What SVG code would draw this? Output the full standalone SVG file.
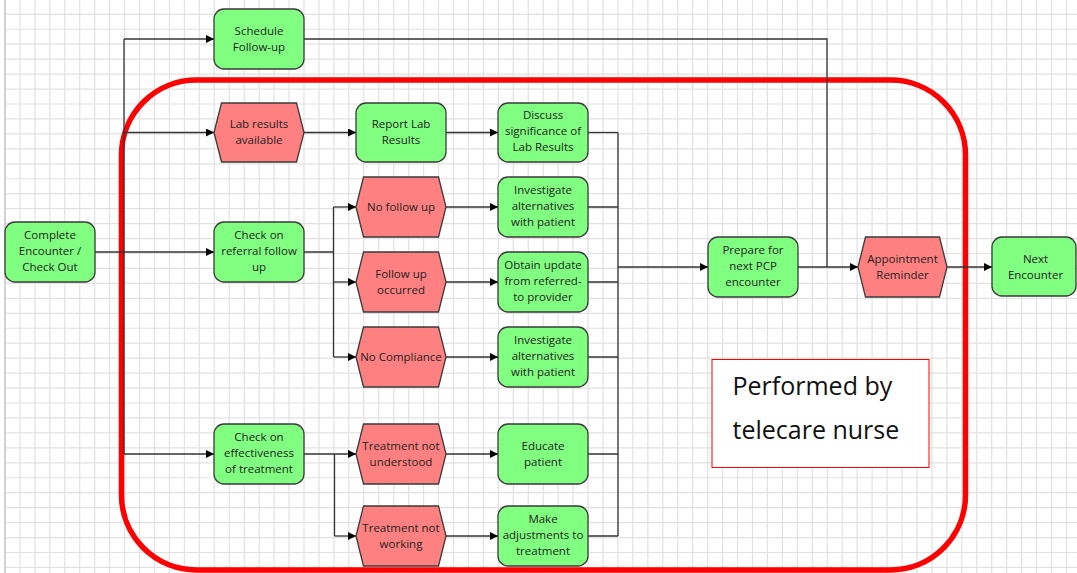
<svg xmlns="http://www.w3.org/2000/svg" width="1077" height="573" viewBox="0 0 1077 573">
<defs>
<style>
.grid{stroke:#e1e1e1;stroke-width:1.2;fill:none}
.g{fill:#80ff80;stroke:#3a3a3a;stroke-width:1.3}
.r{fill:#ff8080;stroke:#3a3a3a;stroke-width:1.3}
.t{font-family:"Open Sans","Noto Sans","Liberation Sans",sans-serif;font-size:11.5px;fill:#222;text-anchor:middle}
.c{fill:none;stroke:#333;stroke-width:1.3}
.ca{fill:none;stroke:#333;stroke-width:1.3;marker-end:url(#ah)}
.note{font-family:"Open Sans","Noto Sans","Liberation Sans",sans-serif;font-size:25px;fill:#111}
</style>
<marker id="ah" viewBox="0 0 10 10" refX="10" refY="5" markerUnits="userSpaceOnUse" markerWidth="9" markerHeight="8" orient="auto">
<path d="M0,0 L10,5 L0,10 z" fill="#000"/>
</marker>
</defs>
<rect x="0" y="0" width="1077" height="573" fill="#fff"/>
<path class="grid" d="M20,0V573M34.9,0V573M49.85,0V573M64.8,0V573M79.75,0V573M94.7,0V573M109.65,0V573M124.6,0V573M139.55,0V573M154.5,0V573M169.45,0V573M184.4,0V573M199.35,0V573M214.3,0V573M229.25,0V573M244.2,0V573M259.15,0V573M274.1,0V573M289.05,0V573M304,0V573M318.95,0V573M333.9,0V573M348.85,0V573M363.8,0V573M378.75,0V573M393.7,0V573M408.65,0V573M423.6,0V573M438.55,0V573M453.5,0V573M468.45,0V573M483.4,0V573M498.35,0V573M513.3,0V573M528.25,0V573M543.2,0V573M558.15,0V573M573.1,0V573M588.05,0V573M603,0V573M617.95,0V573M632.9,0V573M647.85,0V573M662.8,0V573M677.75,0V573M692.7,0V573M707.65,0V573M722.6,0V573M737.55,0V573M752.5,0V573M767.45,0V573M782.4,0V573M797.35,0V573M812.3,0V573M827.25,0V573M842.2,0V573M857.15,0V573M872.1,0V573M887.05,0V573M902,0V573M916.95,0V573M931.9,0V573M946.85,0V573M961.8,0V573M976.75,0V573M991.7,0V573M1006.65,0V573M1021.6,0V573M1036.55,0V573M1051.5,0V573M1066.45,0V573M5,14.3H1077M5,29.25H1077M5,44.2H1077M5,59.15H1077M5,74.1H1077M5,89.05H1077M5,104H1077M5,118.95H1077M5,133.9H1077M5,148.85H1077M5,163.8H1077M5,178.75H1077M5,193.7H1077M5,208.65H1077M5,223.6H1077M5,238.55H1077M5,253.5H1077M5,268.45H1077M5,283.4H1077M5,298.35H1077M5,313.3H1077M5,328.25H1077M5,343.2H1077M5,358.15H1077M5,373.1H1077M5,388.05H1077M5,403H1077M5,417.95H1077M5,432.9H1077M5,447.85H1077M5,462.8H1077M5,477.75H1077M5,492.7H1077M5,507.65H1077M5,522.6H1077M5,537.55H1077M5,552.5H1077M5,567.45H1077"/>
<path d="M5,0V573" stroke="#d2d2d2" stroke-width="2" fill="none"/>

<rect id="boundary" x="121.5" y="80" width="844" height="490" rx="75" ry="75" fill="none" stroke="#ff0000" stroke-width="5.5"/>

<g id="connectors">
<path class="ca" d="M95,252H214"/>
<path class="c" d="M124,39V454"/>
<path class="ca" d="M124,39H214"/>
<path class="ca" d="M124,132.5H214"/>
<path class="ca" d="M124,454H214"/>
<path class="c" d="M304,39H827V267"/>
<path class="ca" d="M304,132.5H356"/>
<path class="ca" d="M446,132.5H498"/>
<path class="c" d="M588,132.5H618"/>
<path class="c" d="M304,252H333.5M333.5,207V357"/>
<path class="ca" d="M333.5,207H356"/>
<path class="ca" d="M333.5,282H356"/>
<path class="ca" d="M333.5,357H356"/>
<path class="ca" d="M304,454H356"/>
<path class="c" d="M334.5,454V536"/>
<path class="ca" d="M334.5,536H356"/>
<path class="ca" d="M446,207H498"/>
<path class="ca" d="M446,282H498"/>
<path class="ca" d="M446,357H498"/>
<path class="ca" d="M446,454H498"/>
<path class="ca" d="M446,536H498"/>
<path class="c" d="M588,207H618M588,282H618M588,357H618M588,454H618M588,536H618"/>
<path class="c" d="M618,132.5V536"/>
<path class="ca" d="M618,267H708"/>
<path class="ca" d="M798,267H858"/>
<path class="ca" d="M947,267H992"/>
</g>

<g id="n_complete"><rect class="g" x="5" y="222" width="90" height="60" rx="10"/><text class="t"><tspan x="50" y="238.5">Complete</tspan><tspan x="50" y="254.5">Encounter /</tspan><tspan x="50" y="270.5">Check Out</tspan></text></g>
<g id="n_schedule"><rect class="g" x="214" y="9" width="90" height="60" rx="10"/><text class="t"><tspan x="259" y="34.5">Schedule</tspan><tspan x="259" y="50.5">Follow-up</tspan></text></g>
<g id="n_lab"><polygon class="r" points="214,132.5 221.5,103 296.5,103 304,132.5 296.5,162 221.5,162"/><text class="t"><tspan x="259" y="128">Lab results</tspan><tspan x="259" y="144">available</tspan></text></g>
<g id="n_referral"><rect class="g" x="214" y="222" width="90" height="60" rx="10"/><text class="t"><tspan x="259" y="238.5">Check on</tspan><tspan x="259" y="254.5">referral follow</tspan><tspan x="259" y="270.5">up</tspan></text></g>
<g id="n_effect"><rect class="g" x="214" y="424" width="90" height="60" rx="10"/><text class="t"><tspan x="259" y="440.5">Check on</tspan><tspan x="259" y="456.5">effectiveness</tspan><tspan x="259" y="472.5">of treatment</tspan></text></g>
<g id="n_report"><rect class="g" x="356" y="103" width="90" height="59" rx="10"/><text class="t"><tspan x="401" y="128">Report Lab</tspan><tspan x="401" y="144">Results</tspan></text></g>
<g id="n_nofollow"><polygon class="r" points="356,207 363.5,177 438.5,177 446,207 438.5,237 363.5,237"/><text class="t"><tspan x="401" y="210.5">No follow up</tspan></text></g>
<g id="n_occurred"><polygon class="r" points="356,282 363.5,252 438.5,252 446,282 438.5,312 363.5,312"/><text class="t"><tspan x="401" y="277.5">Follow up</tspan><tspan x="401" y="293.5">occurred</tspan></text></g>
<g id="n_nocomp"><polygon class="r" points="356,357 363.5,327 438.5,327 446,357 438.5,387 363.5,387"/><text class="t"><tspan x="401" y="360.5">No Compliance</tspan></text></g>
<g id="n_notund"><polygon class="r" points="356,454 363.5,424 438.5,424 446,454 438.5,484 363.5,484"/><text class="t"><tspan x="401" y="449.5">Treatment not</tspan><tspan x="401" y="465.5">understood</tspan></text></g>
<g id="n_notwork"><polygon class="r" points="356,536 363.5,506 438.5,506 446,536 438.5,566 363.5,566"/><text class="t"><tspan x="401" y="531.5">Treatment not</tspan><tspan x="401" y="547.5">working</tspan></text></g>
<g id="n_discuss"><rect class="g" x="498" y="103" width="90" height="59" rx="10"/><text class="t"><tspan x="543" y="119">Discuss</tspan><tspan x="543" y="135">significance of</tspan><tspan x="543" y="151">Lab Results</tspan></text></g>
<g id="n_inv1"><rect class="g" x="498" y="177" width="90" height="60" rx="10"/><text class="t"><tspan x="543" y="193.5">Investigate</tspan><tspan x="543" y="209.5">alternatives</tspan><tspan x="543" y="225.5">with patient</tspan></text></g>
<g id="n_obtain"><rect class="g" x="498" y="252" width="90" height="60" rx="10"/><text class="t"><tspan x="543" y="268.5">Obtain update</tspan><tspan x="543" y="284.5">from referred-</tspan><tspan x="543" y="300.5">to provider</tspan></text></g>
<g id="n_inv2"><rect class="g" x="498" y="327" width="90" height="60" rx="10"/><text class="t"><tspan x="543" y="343.5">Investigate</tspan><tspan x="543" y="359.5">alternatives</tspan><tspan x="543" y="375.5">with patient</tspan></text></g>
<g id="n_educate"><rect class="g" x="498" y="424" width="90" height="60" rx="10"/><text class="t"><tspan x="543" y="449.5">Educate</tspan><tspan x="543" y="465.5">patient</tspan></text></g>
<g id="n_adjust"><rect class="g" x="498" y="506" width="90" height="60" rx="10"/><text class="t"><tspan x="543" y="522.5">Make</tspan><tspan x="543" y="538.5">adjustments to</tspan><tspan x="543" y="554.5">treatment</tspan></text></g>
<g id="n_prepare"><rect class="g" x="708" y="237" width="90" height="60" rx="10"/><text class="t"><tspan x="753" y="253.5">Prepare for</tspan><tspan x="753" y="269.5">next PCP</tspan><tspan x="753" y="285.5">encounter</tspan></text></g>
<g id="n_reminder"><polygon class="r" points="858,267 865.5,237 939.5,237 947,267 939.5,297 865.5,297"/><text class="t"><tspan x="902.5" y="262.5">Appointment</tspan><tspan x="902.5" y="278.5">Reminder</tspan></text></g>
<g id="n_next"><rect class="g" x="992" y="237" width="84" height="59" rx="10"/><text class="t"><tspan x="1035.5" y="262.5">Next</tspan><tspan x="1035.5" y="278.5">Encounter</tspan></text></g>

<g id="note"><rect x="712" y="359.5" width="217" height="108" fill="#fff" stroke="#ff0000" stroke-width="1"/><text class="note"><tspan x="732.5" y="395">Performed by</tspan><tspan x="732.5" y="439">telecare nurse</tspan></text></g>
</svg>
